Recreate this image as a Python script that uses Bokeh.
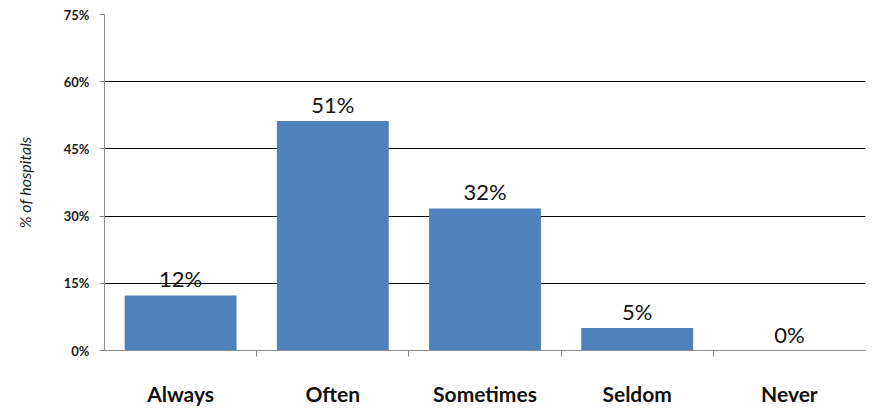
from bokeh.plotting import figure
from bokeh.models import ColumnDataSource, FixedTicker, Range1d, PrintfTickFormatter
from bokeh.embed import file_html
from bokeh.resources import INLINE
from bokeh.core.properties import value

categories = ["Always", "Often", "Sometimes", "Seldom", "Never"]
values = [12.3, 51.2, 31.7, 5.0, 0.0]
labels = ["12%", "51%", "32%", "5%", "0%"]
y_ticks = [0, 15, 30, 45, 60, 75]

xs = [i + 0.5 for i in range(len(categories))]
src = ColumnDataSource(dict(x=xs, top=values, label=labels))

p = figure(width=870, height=408, output_backend="svg", toolbar_location=None,
           x_range=Range1d(0, len(categories)), y_range=Range1d(0, 75),
           min_border_left=104, min_border_right=5, min_border_top=14, min_border_bottom=10)
p.outline_line_color = None
p.background_fill_color = "white"

p.vbar(x="x", top="top", width=0.735, source=src, fill_color="#4F81BD", line_color=None)
p.text(x="x", y="top", text="label", source=src, text_align="center", text_baseline="bottom",
       y_offset=-3, text_font=value("Lato"), text_font_size="22px", text_color="#111111")

# y axis
p.yaxis.ticker = FixedTicker(ticks=y_ticks, minor_ticks=[])
p.yaxis.formatter = PrintfTickFormatter(format="%d%%")
p.yaxis.axis_line_color = "#8c8c8c"
p.yaxis.major_tick_line_color = "#8c8c8c"
p.yaxis.major_tick_out = 5
p.yaxis.major_tick_in = 0
p.yaxis.major_label_standoff = 10
p.yaxis.major_label_text_font = "Lato"
p.yaxis.major_label_text_font_style = "bold"
p.yaxis.major_label_text_font_size = "13px"
p.yaxis.major_label_text_color = "#1a1a1a"
p.yaxis.axis_label = "% of hospitals"
p.yaxis.axis_label_text_font = "Lato"
p.yaxis.axis_label_text_font_style = "italic"
p.yaxis.axis_label_text_font_size = "16px"
p.yaxis.axis_label_text_color = "#1a1a1a"
p.yaxis.axis_label_standoff = 27

# x axis: labels at centers, tick marks between categories
p.xaxis.ticker = FixedTicker(ticks=xs, minor_ticks=[i for i in range(1, len(categories))])
p.xaxis.major_label_overrides = {x: c for x, c in zip(xs, categories)}
p.xaxis.major_tick_line_color = None
p.xaxis.minor_tick_line_color = "#8c8c8c"
p.xaxis.minor_tick_out = 6
p.xaxis.minor_tick_in = 0
p.xaxis.axis_line_color = "#8c8c8c"
p.xaxis.major_label_standoff = 24
p.xaxis.major_label_text_font = "Lato"
p.xaxis.major_label_text_font_style = "bold"
p.xaxis.major_label_text_font_size = "21px"
p.xaxis.major_label_text_color = "#111111"

p.xgrid.grid_line_color = None
p.ygrid.ticker = FixedTicker(ticks=y_ticks)
p.ygrid.grid_line_color = "black"
p.ygrid.grid_line_width = 1

open("out.html", "w").write(file_html(p, INLINE))
